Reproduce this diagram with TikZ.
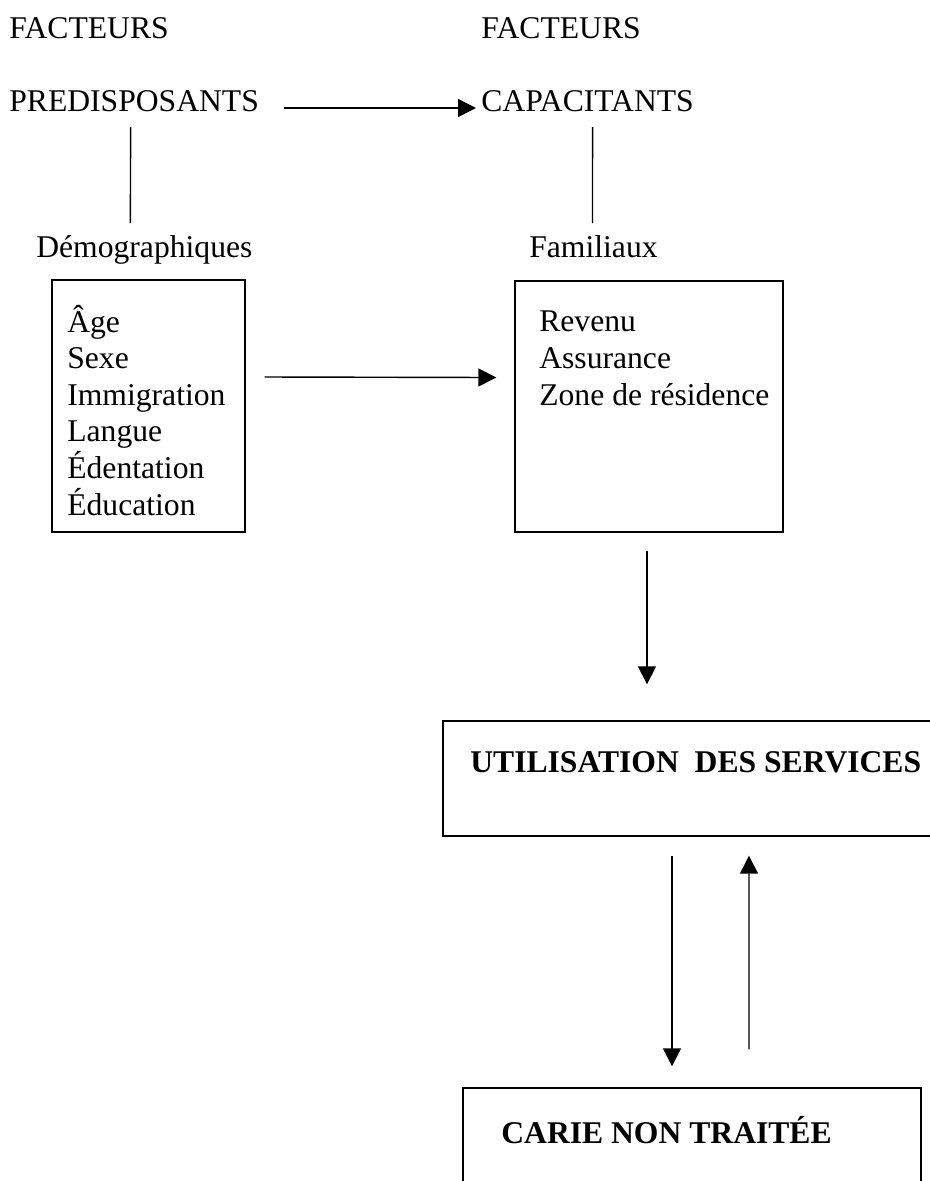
\documentclass[tikz,border=0pt]{standalone}
\usepackage{fontspec}
\setmainfont{Liberation Serif}
\usetikzlibrary{arrows.meta}

\tikzset{
	lbl/.style={inner sep=0pt, anchor=base west, font=\fontsize{18}{20.8}\selectfont},
	ttl/.style={lbl, font=\fontsize{18}{20.8}\selectfont\bfseries},
	box/.style={draw, line width=0.8pt, inner sep=0pt},
	arr/.style={-{Triangle[length=0.36cm, width=0.36cm]}, line width=0.8pt}
}

\begin{document}
\begin{tikzpicture}[x=0.02cm, y=-0.02cm]
\useasboundingbox (0, 0) rectangle (930, 1181);

% facteurs
\node[lbl] (facL) at (9, 38) {FACTEURS};
\node[lbl] (facR) at (481, 38) {FACTEURS};
\node[lbl] (pred) at (9, 111) {PREDISPOSANTS};
\node[lbl] (capa) at (481, 111) {CAPACITANTS};

\draw[arr] ([shift={(25, -3)}]pred.base east) -- ([shift={(-5, -3)}]capa.base west);

\node[lbl] (demo) at (36, 257) {Démographiques};
\node[lbl] (fami) at (529, 257) {Familiaux};

\draw[line width=0.8pt] ([shift={(-3.5, 16)}]pred.base) -- ([shift={(-14, -34)}]demo.base);
\draw[line width=0.8pt] ([shift={(5, 16)}]capa.base) -- ([shift={(-1, -34)}]fami.base);

% boites (base = derniere ligne)
\node[box, minimum width=3.86cm, minimum height=5.04cm] (demobox) at (148.5, 406) {};
\node[box, minimum width=5.36cm, minimum height=5.02cm] (famibox) at (649, 406.5) {};
\node[lbl, align=left] (demolist) at (67, 515)
	{Âge\\Sexe\\Immigration\\Langue\\Édentation\\Éducation};
\node[lbl, align=left] (familist) at (539, 405)
	{Revenu\\Assurance\\Zone de résidence};

\draw[arr] ([shift={(19, -29)}]demobox.east) -- ([shift={(-18, -29)}]famibox.west);

\node[box, minimum width=9.94cm, minimum height=2.3cm] (util) at (691.5, 778.5) {};
\node[ttl] (utiltxt) at (470, 772) {UTILISATION\ \ DES SERVICES};

\node[box, minimum width=9.16cm, minimum height=2.5cm] (carie) at (692, 1150.5) {};
\node[ttl] (carietxt) at (501, 1143) {CARIE NON TRAITÉE};

\draw[arr] ([shift={(-2, 18)}]famibox.south) -- ([shift={(-44.5, -36)}]util.north);
\draw[arr] ([shift={(-19.5, 19)}]util.south) -- ([shift={(-20, -21)}]carie.north);
\draw[arr] ([shift={(57, -38)}]carie.north) -- ([shift={(57.5, 19)}]util.south);

\end{tikzpicture}
\end{document}
